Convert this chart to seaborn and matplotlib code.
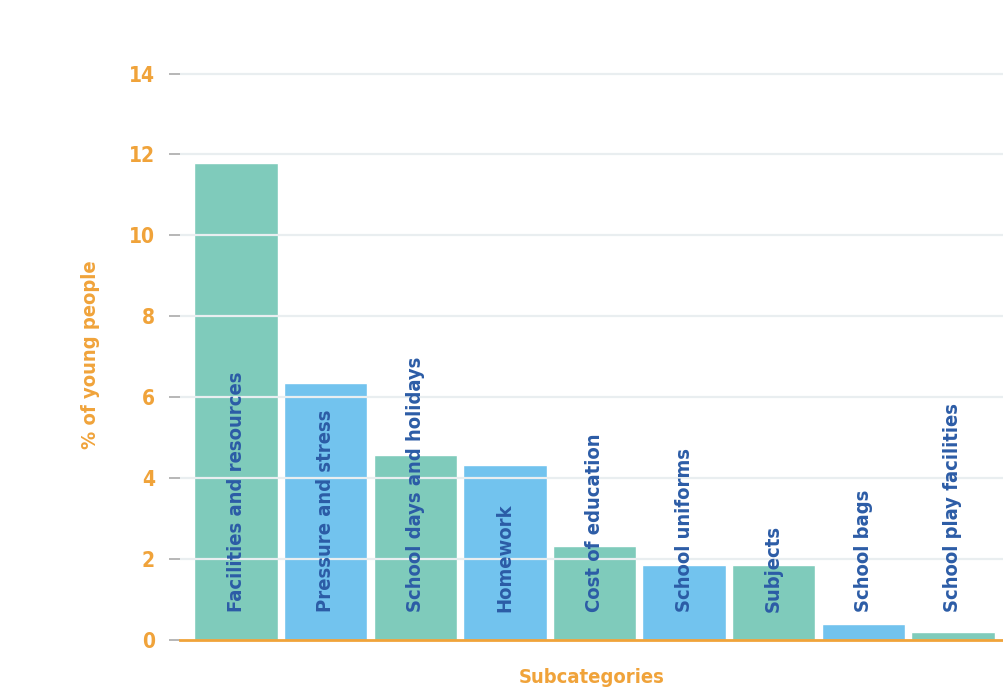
import matplotlib
matplotlib.use("Agg")
import matplotlib.pyplot as plt
import seaborn as sns
import pandas as pd

categories = ["Facilities and resources", "Pressure and stress", "School days and holidays",
              "Homework", "Cost of education", "School uniforms", "Subjects",
              "School bags", "School play facilities"]
values = [11.8, 6.35, 4.57, 4.32, 2.32, 1.85, 1.85, 0.4, 0.2]
yticks = [0, 2, 4, 6, 8, 10, 12, 14]

teal = "#7fcbbb"
blue = "#72c3ee"
colors = [teal, blue] * 5
colors = colors[:len(categories)]
orange = "#f0a33a"
navy = "#2c5ca6"

sns.set_theme(style="white")
plt.rcParams['font.family'] = ['DejaVu Sans']
plt.rcParams['font.stretch'] = 'condensed'

df = pd.DataFrame({"cat": categories, "val": values})

fig = plt.figure(figsize=(10.04, 6.96), dpi=100)
ax = fig.add_axes([0.179, 0.0805, 0.821, 0.872])
sns.barplot(data=df, x="cat", y="val", hue="cat", palette=colors, legend=False,
            width=0.93, saturation=1, ax=ax, zorder=2)

ax.set_xlim(-0.63, 8.57)
ax.set_ylim(0, 15)
ax.set_yticks(yticks)
ax.set_yticklabels([str(t) for t in yticks], color=orange, fontsize=15, fontweight='bold',
                   fontstretch='condensed')
ax.tick_params(axis='y', length=8, width=1.2, color='#aaaaaa', pad=10, left=True)
ax.set_xticks([])
for yv in yticks[1:]:
    ax.axhline(yv, color='#e9eef0', lw=1.6, zorder=3)

for s in ['top', 'right', 'left']:
    ax.spines[s].set_visible(False)
ax.spines['bottom'].set_color(orange)
ax.spines['bottom'].set_linewidth(2)
ax.spines['bottom'].set_zorder(4)

for i, c in enumerate(categories):
    ax.text(i, 0.68, c, rotation=90, ha='center', va='bottom', color=navy,
            fontsize=14.5, fontweight='bold', fontstretch='condensed', zorder=5)

ax.set_ylabel("% of young people", color=orange, fontsize=14.5, fontweight='bold',
              fontstretch='condensed')
ax.yaxis.set_label_coords(-0.097, 0.47)
ax.set_xlabel("Subcategories", color=orange, fontsize=14.5, fontweight='bold',
              fontstretch='condensed', labelpad=20)

fig.savefig("out.png", dpi=100)
